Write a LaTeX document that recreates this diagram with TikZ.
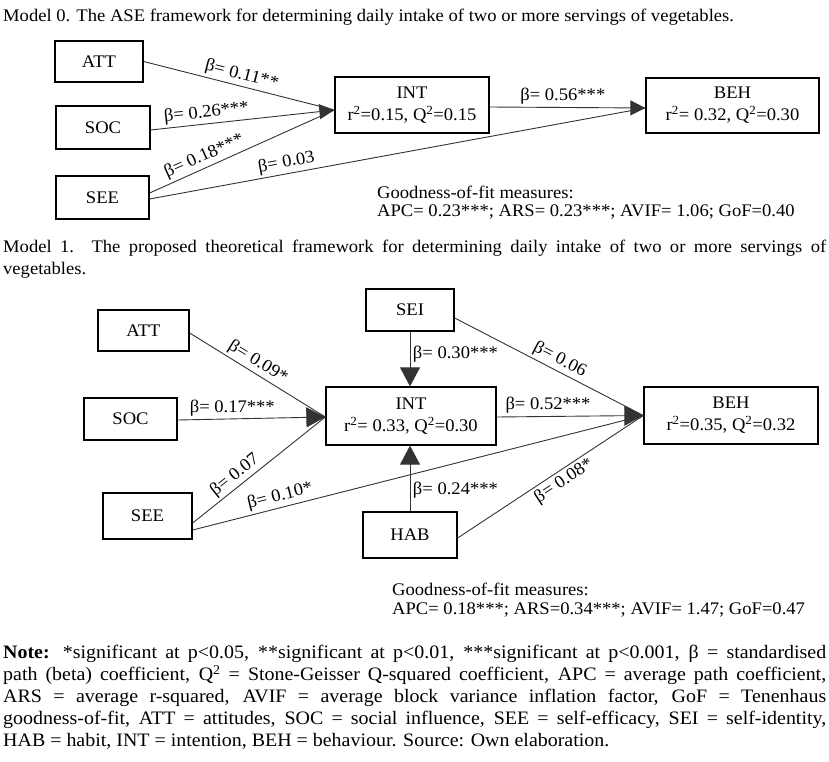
\documentclass[tikz,border=0pt]{standalone}
\usepackage{fontspec}
\setmainfont{Liberation Serif}[FakeStretch=1.05]
\usetikzlibrary{arrows.meta}
\begin{document}
\begin{tikzpicture}[x=1pt,y=-1pt,
  every node/.style={font=\fontsize{17.7}{22}\selectfont},
  box/.style={draw, line width=1.3pt, inner sep=0pt, align=center},
  conn/.style={line width=0.9pt, draw=black!80},
  tipA/.style={-{Triangle[length=15pt,width=15pt]}},
  tipB/.style={-{Triangle[length=19pt,width=20pt]}},
  lbl/.style={inner sep=2.5pt},
  txt/.style={inner sep=0pt, anchor=west}
]
\useasboundingbox (0,0) rectangle (829,762);

% ---------- Model 0 ----------
\node[txt] (t0) at (3,17) {Model 0. The ASE framework for determining daily intake of two or more servings of vegetables.};

\node[box, minimum width=88pt, minimum height=41pt] (att0) at (99,61.5) {ATT};
\node[box, minimum width=94pt, minimum height=43pt] (soc0) at (103,127.5) {SOC};
\node[box, minimum width=93pt, minimum height=43pt] (see0) at (102.5,197.5) {SEE};
\node[box, minimum width=154pt, minimum height=56pt] (int0) at (412,105) {INT\\r\textsuperscript{2}=0.15, Q\textsuperscript{2}=0.15};
\node[box, minimum width=173pt, minimum height=55pt] (beh0) at (732.5,105.5) {BEH\\r\textsuperscript{2}= 0.32, Q\textsuperscript{2}=0.30};

\coordinate (int0in) at ([yshift=-5pt]int0.west);
\coordinate (beh0in) at ([yshift=-2.5pt]beh0.west);

\draw[conn] (att0.east) -- (int0in) node[lbl, pos=0.5, above, sloped] {β= 0.11**};
\draw[conn,tipA] ([yshift=-2.5pt]soc0.east) -- (int0in) node[lbl, pos=0.31, above, sloped] {β= 0.26***};
\draw[conn] ([yshift=4.5pt]see0.east) -- (int0in) node[lbl, pos=0.32, above, sloped] {β= 0.18***};
\draw[conn] ([yshift=-1.5pt]see0.east) -- (beh0in) node[lbl, pos=0.28, above, sloped] {β= 0.03};
\draw[conn,tipA] ([yshift=-2pt]int0.east) -- (beh0in) node[lbl, pos=0.47, above] {β= 0.56***};

\node[txt] (g0a) at (377,192) {Goodness-of-fit measures:};
\node[txt] (g0b) at (377,212) {APC= 0.23***; ARS= 0.23***; AVIF= 1.06; GoF=0.40};

% ---------- Model 1 ----------
\node[inner sep=0pt, anchor=north west, align=left] (t1) at (3,240)
  {\makebox[823pt][s]{Model 1. The proposed theoretical framework for determining daily intake of two or more servings of}\\vegetables.};

\node[box, minimum width=91pt, minimum height=41pt] (att1) at (143.5,330.5) {ATT};
\node[box, minimum width=93pt, minimum height=42pt] (soc1) at (130.5,419) {SOC};
\node[box, minimum width=89pt, minimum height=46pt] (see1) at (147.5,516) {SEE};
\node[box, minimum width=88pt, minimum height=42pt] (sei) at (410,310) {SEI};
\node[box, minimum width=170pt, minimum height=58pt] (int1) at (411,416) {INT\\r\textsuperscript{2}= 0.33, Q\textsuperscript{2}=0.30};
\node[box, minimum width=94pt, minimum height=46pt] (hab) at (410,535) {HAB};
\node[box, minimum width=174pt, minimum height=57pt] (beh1) at (731,415.5) {BEH\\r\textsuperscript{2}=0.35, Q\textsuperscript{2}=0.32};

\coordinate (int1in) at ([yshift=-1pt]int1.west);
\coordinate (beh1in) at (beh1.west);

\draw[conn] ([yshift=-2.5pt]att1.east) -- (int1in) node[lbl, pos=0.46, above, sloped] {β= 0.09*};
\draw[conn,tipB] ([yshift=-1pt]soc1.east) -- (int1in) node[lbl, pos=0.37, above] {β= 0.17***};
\draw[conn] ([yshift=-7pt]see1.east) -- (int1in) node[lbl, pos=0.37, above, sloped] {β= 0.07};
\draw[conn] ([yshift=-14pt]see1.east) -- (beh1in) node[lbl, pos=0.2, above, sloped] {β= 0.10*};
\draw[conn,tipB] (sei.south) -- (sei.south |- int1.north) node[lbl, pos=0.42, right] {β= 0.30***};
\draw[conn,tipB] (hab.north) -- (hab.north |- int1.south) node[lbl, pos=0.33, right] {β= 0.24***};
\draw[conn] ([yshift=-8pt]sei.east) -- (beh1in) node[lbl, pos=0.53, above, sloped] {β= 0.06};
\draw[conn,tipB] ([yshift=-1pt]int1.east) -- (beh1in) node[lbl, pos=0.35, above] {β= 0.52***};
\draw[conn] ([yshift=-3pt]hab.east) -- (beh1in) node[lbl, pos=0.54, below, sloped] {β= 0.08*};

\node[txt] (g1a) at (392,589) {Goodness-of-fit measures:};
\node[txt] (g1b) at (392,610) {APC= 0.18***; ARS=0.34***; AVIF= 1.47; GoF=0.47};

% ---------- Note ----------
\node[inner sep=0pt, anchor=north west, align=left, font=\fontsize{19}{22}\selectfont] (note) at (3,645)
  {\makebox[823pt][s]{\textbf{Note:} *significant at p<0.05, **significant at p<0.01, ***significant at p<0.001, β = standardised}\\
   \makebox[823pt][s]{path (beta) coefficient, Q\textsuperscript{2} = Stone-Geisser Q-squared coefficient, APC = average path coefficient,}\\
   \makebox[823pt][s]{ARS = average r-squared, AVIF = average block variance inflation factor, GoF = Tenenhaus}\\
   \makebox[823pt][s]{goodness-of-fit, ATT = attitudes, SOC = social influence, SEE = self-efficacy, SEI = self-identity,}\\
   HAB = habit, INT = intention, BEH = behaviour. Source: Own elaboration.};
\end{tikzpicture}
\end{document}
